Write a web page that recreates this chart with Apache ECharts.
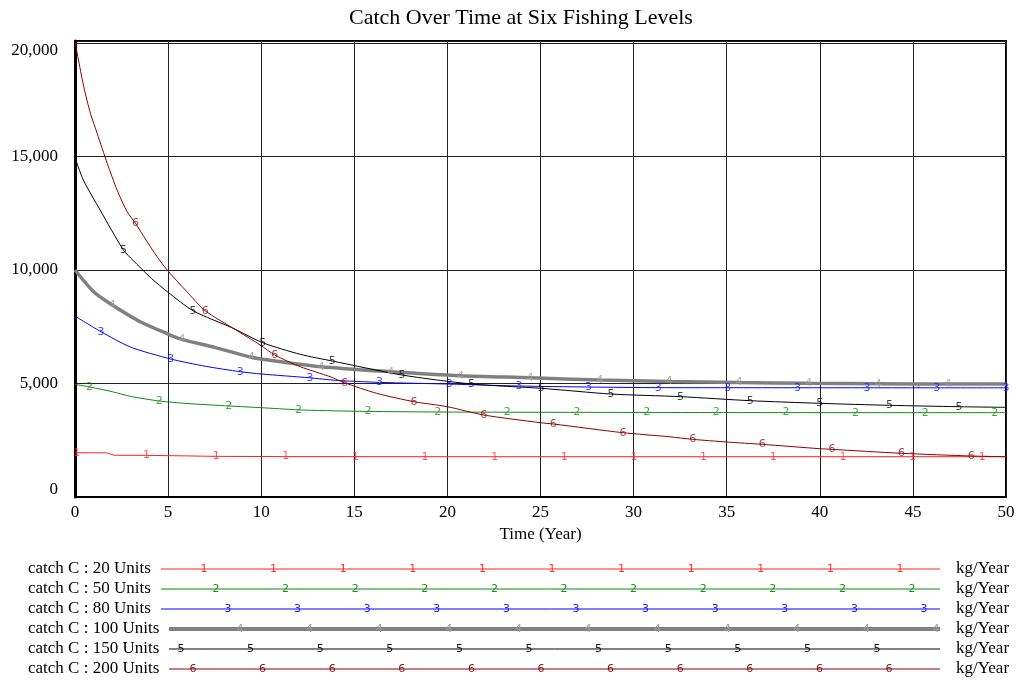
<!DOCTYPE html>
<html><head><meta charset="utf-8">
<script src="https://cdn.jsdelivr.net/npm/echarts@6/dist/echarts.min.js"></script>
<style>html,body{margin:0;padding:0;background:#fff}#c{width:1018px;height:680px}</style>
</head><body><div id="c"></div>
<script>
const chartTitle = 'Catch Over Time at Six Fishing Levels';
const xAxisName = 'Time (Year)';
const unitLabel = 'kg/Year';
const seriesNames = ['catch C : 20 Units', 'catch C : 50 Units', 'catch C : 80 Units', 'catch C : 100 Units', 'catch C : 150 Units', 'catch C : 200 Units'];
const seriesDigits = ['1', '2', '3', '4', '5', '6'];
const xTicks = [0, 5, 10, 15, 20, 25, 30, 35, 40, 45, 50];
const yTicks = [0, 5000, 10000, 15000, 20000];
const yMax = 20090;

// [year, kg/Year]
const catch20 = [[0,1950],[0.1,1950],[1.7,1945],[2.1,1840],[3.84,1835],[6,1810],[7.58,1790],[11.32,1780],[15.06,1778],[18.8,1776],[22.54,1775],[26.28,1775],[30.02,1775],[33.76,1775],[37.5,1775],[41.24,1775],[44.98,1775],[48.72,1775],[50,1775]];
const catch50 = [[0,4960],[0.78,4850],[2,4640],[3,4430],[4.52,4230],[6,4120],[8.26,4010],[10,3935],[12,3840],[13.7,3800],[15.74,3770],[19.48,3745],[23.22,3735],[26.96,3730],[30.7,3725],[34.44,3720],[38.18,3718],[41.92,3716],[45.66,3715],[49.4,3715],[50,3715]];
const catch80 = [[0,7970],[1.4,7280],[3,6600],[5.14,6080],[7,5760],[8.88,5520],[10,5420],[12.62,5250],[14,5140],[16.36,5050],[20.1,4975],[23.84,4890],[27.58,4845],[31.32,4818],[35.06,4815],[38.8,4813],[42.54,4812],[46.28,4810],[50,4810]];
const catch100 = [[0,10000],[1,9045],[2,8458],[3.5,7722],[5,7180],[5.74,6947],[7.5,6594],[9.48,6154],[10,6079],[13.22,5740],[16.96,5520],[20.7,5344],[24.44,5255],[28.18,5154],[31.92,5090],[35.66,5040],[39.4,5006],[43.14,4990],[46.88,4978],[50,4975]];
const catch150 = [[0,14950],[0.45,13964],[1.35,12643],[2.6,10880],[3.1,10440],[4.1,9634],[5,9017],[6.34,8207],[8.5,7431],[10.08,6797],[12.1,6286],[13.82,5991],[17.56,5374],[21.3,4978],[25.04,4788],[28.78,4537],[32.52,4420],[36.26,4243],[40,4127],[43.74,4039],[47.48,3978],[50,3950]];
const catch200 = [[0,20057],[0.47,18074],[0.83,16902],[1.19,16021],[1.73,14700],[2.26,13523],[2.8,12568],[3.25,12057],[3.7,11466],[4.41,10585],[4.95,10000],[5.99,9060],[6.99,8207],[8.52,7420],[9.95,6696],[10.73,6255],[12.1,5740],[13.7,5300],[14.47,5035],[16.2,4568],[18.21,4198],[20,3978],[21.95,3612],[25,3273],[25.69,3216],[29.43,2833],[31.9,2656],[33.17,2541],[35,2423],[36.91,2320],[40,2128],[40.65,2099],[44.39,1925],[48.13,1806],[50,1775]];

// years at which the series number is printed on each curve
const marks20 = [0.1,3.84,7.58,11.32,15.06,18.8,22.54,26.28,30.02,33.76,37.5,41.24,44.98,48.72];
const marks50 = [0.78,4.52,8.26,12,15.74,19.48,23.22,26.96,30.7,34.44,38.18,41.92,45.66,49.4];
const marks80 = [1.4,5.14,8.88,12.62,16.36,20.1,23.84,27.58,31.32,35.06,38.8,42.54,46.28,50];
const marks100 = [2,5.74,9.48,13.22,16.96,20.7,24.44,28.18,31.92,35.66,39.4,43.14,46.88];
const marks150 = [2.6,6.34,10.08,13.82,17.56,21.3,25.04,28.78,32.52,36.26,40,43.74,47.48];
const marks200 = [3.25,6.99,10.73,14.47,18.21,21.95,25.69,29.43,33.17,36.91,40.65,44.39,48.13];

const allData = [catch20, catch50, catch80, catch100, catch150, catch200];
const allMarks = [marks20, marks50, marks80, marks100, marks150, marks200];
const lineColors = ['#ff2020', '#128a12', '#0000ff', '#808080', '#000000', '#8b0000'];
const digitColors = ['#ff3030', '#1a8f1a', '#2020ff', '#999999', '#111111', '#8b1010'];
const lineWidths = [1, 1, 1, 3.5, 1, 1];
const smoothing = [false, 0.25, 0.25, 0.25, 0.25, 0.25];

const serif = '"Liberation Serif", "Times New Roman", serif';
const fmt = v => v.toLocaleString('en-US');

const series = [];
allData.forEach((d, i) => {
  series.push({
    type: 'line', name: seriesNames[i], data: d, showSymbol: false, symbol: 'none',
    smooth: smoothing[i],
    lineStyle: { color: lineColors[i], width: lineWidths[i] }, z: 2 + i, silent: true, animation: false
  });
});
allData.forEach((d, i) => {
  const pts = allMarks[i].map(t => d.find(p => p[0] === t)).filter(Boolean);
  series.push({
    type: 'scatter', data: pts, symbolSize: 1, itemStyle: { color: 'rgba(0,0,0,0)' },
    label: { show: true, position: 'inside', formatter: seriesDigits[i], color: digitColors[i], fontSize: 11, fontFamily: '"DejaVu Sans", sans-serif' },
    z: 10, silent: true, animation: false
  });
});

// legend block drawn under the plot
const graphic = [];
const rowY0 = 569, rowGap = 20;
const lineStarts = [161, 161, 161, 169, 169, 169];
const lineEnd = 940;
const markStart = [204, 216, 228, 240, 181, 193];
const markStep = 69.6;
seriesNames.forEach((nm, i) => {
  const y = rowY0 + i * rowGap;
  graphic.push({ type: 'text', left: 28, top: y - 9, style: { text: nm, fontSize: 17, fontFamily: serif, fill: '#000' } });
  graphic.push({ type: 'line', shape: { x1: lineStarts[i], y1: y, x2: lineEnd, y2: y }, style: { stroke: lineColors[i], lineWidth: lineWidths[i] === 1 ? 1 : 4 } });
  for (let x = markStart[i]; x <= lineEnd; x += markStep) {
    graphic.push({ type: 'text', x: x, y: y, style: { text: seriesDigits[i], fontSize: 11, fontFamily: '"DejaVu Sans", sans-serif', fill: digitColors[i], align: 'center', verticalAlign: 'middle' }, z: 5 });
  }
  graphic.push({ type: 'text', left: 956, top: y - 9, style: { text: unitLabel, fontSize: 17, fontFamily: serif, fill: '#000' } });
});

const chart = echarts.init(document.getElementById('c'));
chart.setOption({
  animation: false,
  backgroundColor: '#fff',
  title: { text: chartTitle, left: 349, top: 7, padding: 0, textStyle: { fontFamily: serif, fontSize: 22, fontWeight: 'normal', color: '#000' } },
  grid: { left: 75, right: 12, top: 41, bottom: 183, show: true, borderColor: '#000', borderWidth: 2, backgroundColor: 'transparent' },
  xAxis: {
    type: 'value', min: xTicks[0], max: xTicks[xTicks.length - 1], interval: 5,
    name: xAxisName, nameLocation: 'middle', nameGap: 27,
    nameTextStyle: { fontFamily: serif, fontSize: 17, color: '#000' },
    axisLine: { show: true, lineStyle: { color: '#000', width: 2 } },
    axisTick: { show: false },
    axisLabel: { margin: 7, fontFamily: serif, fontSize: 17, color: '#000', formatter: v => String(v) },
    splitLine: { show: true, lineStyle: { color: '#222', width: 1 } }
  },
  yAxis: {
    type: 'value', min: 0, max: yMax, interval: 5000,
    axisLine: { show: true, lineStyle: { color: '#000', width: 3 } },
    axisTick: { show: false },
    axisLabel: {
      margin: 17, fontFamily: serif, fontSize: 17, color: '#000', lineHeight: 14, showMaxLabel: false,
      formatter: v => {
        if (yTicks.indexOf(v) < 0) return '';
        if (v === yTicks[yTicks.length - 1]) return '\n' + fmt(v);
        if (v === yTicks[0]) return fmt(v) + '\n';
        return fmt(v);
      }
    },
    splitLine: { show: true, lineStyle: { color: '#222', width: 1 } }
  },
  series: series,
  graphic: graphic
});
</script></body></html>
